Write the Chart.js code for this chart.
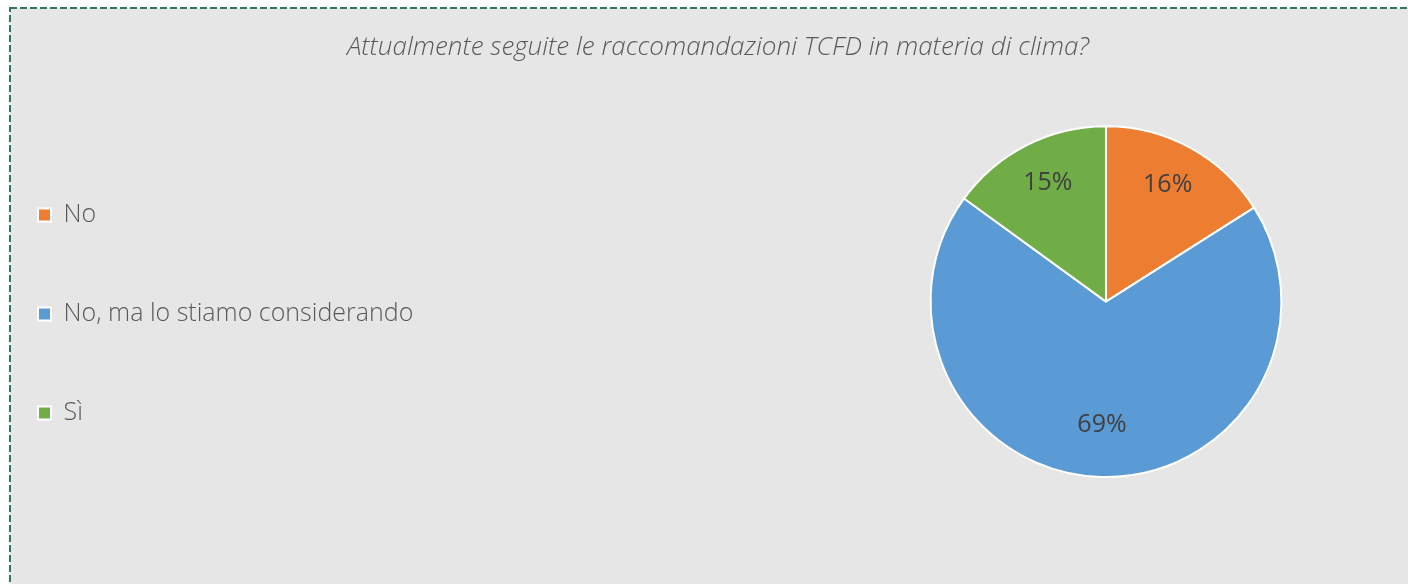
<!DOCTYPE html>
<html>
<head>
<meta charset="utf-8">
<script src="https://cdn.jsdelivr.net/npm/chart.js@4"></script>
<style>
  html, body { margin: 0; padding: 0; background: #fff; overflow: hidden; }
  canvas { display: block; }
</style>
</head>
<body>
<canvas id="pieChart" width="1408" height="584"></canvas>
<script>
// Attualmente seguite le raccomandazioni TCFD?
const chartTitle = 'Attualmente seguite le raccomandazioni TCFD in materia di clima?';
const categories = ['No', 'No, ma lo stiamo considerando', 'Sì'];
const shares = [16, 69, 15];
const sliceColors = ['#ED7D31', '#5B9BD5', '#70AD47'];

Chart.defaults.font.family = "'Open Sans', sans-serif";

// grey panel with the dashed green frame
const framePlugin = {
    id: 'frame',
    beforeDraw(chart) {
        const c = chart.ctx;
        c.save();
        c.fillStyle = '#e6e6e6';
        c.fillRect(10, 8, chart.width, chart.height);
        c.setLineDash([7, 3]);
        c.lineWidth = 2;
        c.strokeStyle = '#357659';
        c.strokeRect(10, 8, chart.width + 20, chart.height + 20);
        c.restore();
    }
};

// wide legend on the left, so the pie sits on the right
const legendBox = {
    id: 'legendBox',
    afterInit(chart) {
        const legend = chart.legend;
        const fit = legend.fit;
        legend.fit = function () {
            fit.call(this);
            this.width = 776;
        };
    },
    afterLayout(chart) {
        const l = chart.legend;
        l.left -= 64;
        l.right -= 64;
        l.top += 75;
        l.bottom += 75;
    }
};

// percentage labels inside the slices
const pieLabels = {
    id: 'pieLabels',
    afterDatasetsDraw(chart) {
        const c = chart.ctx;
        const meta = chart.getDatasetMeta(0);
        c.save();
        c.font = "400 25px 'Open Sans', sans-serif";
        c.fillStyle = '#404040';
        c.textAlign = 'center';
        c.textBaseline = 'middle';
        meta.data.forEach((arc, i) => {
            const p = arc.getProps(['x', 'y', 'startAngle', 'endAngle', 'outerRadius'], true);
            const mid = (p.startAngle + p.endAngle) / 2;
            const r = p.outerRadius * 0.73;
            c.fillText(shares[i] + '%', p.x + Math.cos(mid) * r, p.y + Math.sin(mid) * r - 5);
        });
        c.restore();
    }
};

const ctx = document.getElementById('pieChart').getContext('2d');
new Chart(ctx, {
    type: 'pie',
    data: {
        labels: categories,
        datasets: [{
            data: shares,
            backgroundColor: sliceColors,
            borderColor: '#ffffff',
            borderWidth: 2
        }]
    },
    options: {
        responsive: false,
        animation: false,
        layout: { padding: { left: 28, right: 0, top: 0, bottom: 106 } },
        plugins: {
            title: {
                display: true,
                text: chartTitle,
                color: '#595959',
                font: { size: 26, style: 'italic', weight: 300 },
                padding: { top: 32, bottom: 62 }
            },
            legend: {
                position: 'left',
                labels: {
                    color: '#595959',
                    font: { size: 25, weight: 300 },
                    boxWidth: 13,
                    boxHeight: 13,
                    padding: 74
                }
            },
            tooltip: { enabled: false }
        }
    },
    plugins: [framePlugin, legendBox, pieLabels]
});
</script>
</body>
</html>
